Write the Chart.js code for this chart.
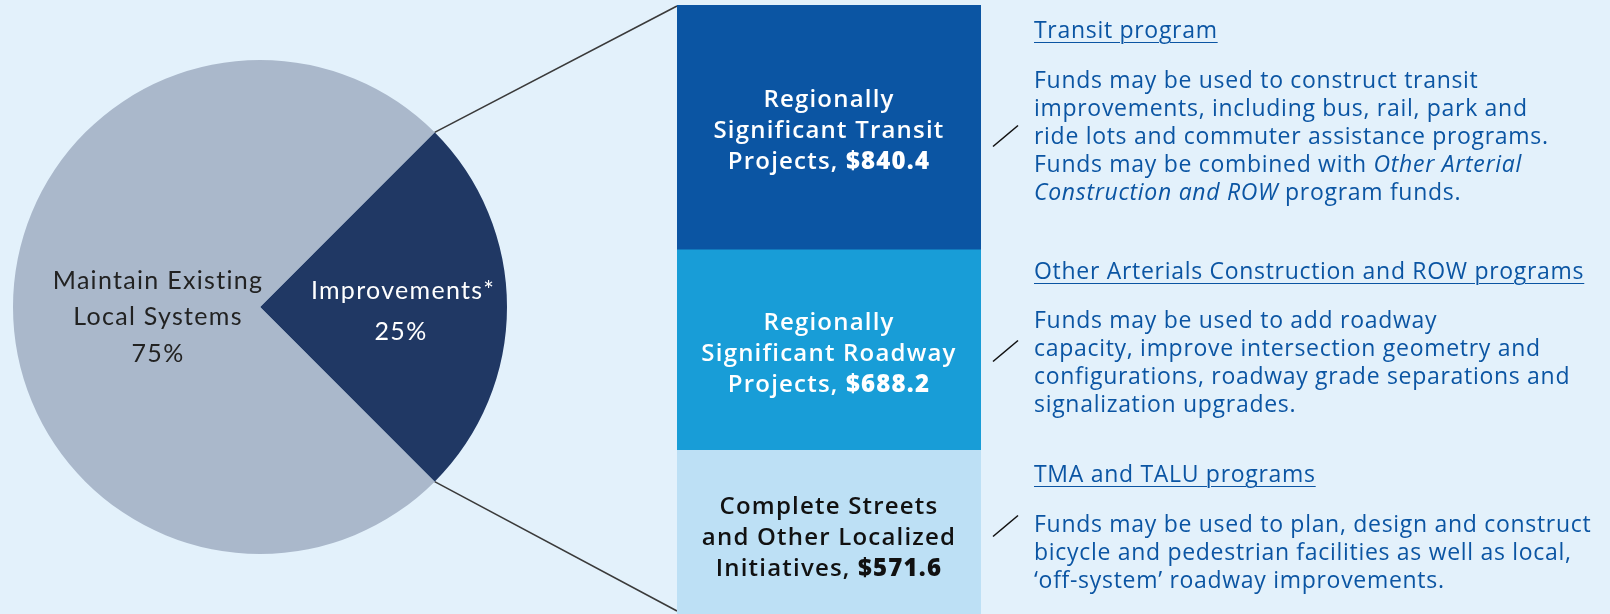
<!DOCTYPE html>
<html>
<head>
<meta charset="utf-8">
<script src="https://cdn.jsdelivr.net/npm/chart.js@4.4.1/dist/chart.umd.min.js"></script>
<style>
  html, body { margin:0; padding:0; width:1610px; height:614px; overflow:hidden; background:#e3f1fb; }
  #pieBox { position:absolute; left:13px; top:60px; width:494px; height:494px; }
  #barBox { position:absolute; left:677px; top:0px; width:304px; height:617px; }
  #overlay { position:absolute; left:0; top:0; pointer-events:none; }
  .txt { position:absolute; left:1034px; font-family:"Open Sans", sans-serif; font-size:23px; letter-spacing:0.7px; font-weight:500; color:#0b55a3; line-height:28px; white-space:nowrap; }
  .hd { text-decoration:underline; text-underline-offset:4px; text-decoration-thickness:1px; font-weight:500; }
  .it { font-style:italic; font-weight:400; }
</style>
</head>
<body>
<canvas id="overlay" width="1610" height="614"></canvas>
<div id="pieBox"><canvas id="pie"></canvas></div>
<div id="barBox"><canvas id="bar"></canvas></div>

<div class="txt hd" style="top:15px">Transit program</div>
<div class="txt" style="top:65px">Funds may be used to construct transit<br>improvements, including bus, rail, park and<br>ride lots and commuter assistance programs.<br>Funds may be combined with <span class="it">Other Arterial</span><br><span class="it">Construction and ROW</span> program funds.</div>

<div class="txt hd" style="top:256px">Other Arterials Construction and ROW programs</div>
<div class="txt" style="top:305px">Funds may be used to add roadway<br>capacity, improve intersection geometry and<br>configurations, roadway grade separations and<br>signalization upgrades.</div>

<div class="txt hd" style="top:459px">TMA and TALU programs</div>
<div class="txt" style="top:509px">Funds may be used to plan, design and construct<br>bicycle and pedestrian facilities as well as local,<br>‘off-system’ roadway improvements.</div>

<script>
// ---- Data ----
const pieLabels = ["Improvements*", "Maintain Existing Local Systems"];
const pieValues = [25, 75];
const pieLabelLines = [["Improvements*"], ["Maintain Existing", "Local Systems"]];

const barCategories = ["Complete Streets and Other Localized Initiatives", "Regionally Significant Roadway Projects", "Regionally Significant Transit Projects"];
const barValues = [571.6, 688.2, 840.4];
const barLabelLines = [["Complete Streets", "and Other Localized", "Initiatives, "], ["Regionally", "Significant Roadway", "Projects, "], ["Regionally", "Significant Transit", "Projects, "]];

// ---- Styles ----
const pieColors = ["#203864", "#aab8cb"];
const pieTextColors = ["#ffffff", "#222222"];
const barColors = ["#bde0f5", "#189dd7", "#0b55a3"];
const barTextColors = ["#111111", "#ffffff", "#ffffff"];

let pieChart = null, barChart = null;

function drawOverlay() {
  if (!pieChart || !barChart) return;
  const ov = document.getElementById('overlay');
  const ctx = ov.getContext('2d');
  ctx.clearRect(0, 0, ov.width, ov.height);
  const pieRect = document.getElementById('pieBox');
  const barRect = document.getElementById('barBox');
  const arc = pieChart.getDatasetMeta(0).data[0];
  const px = pieRect.offsetLeft, py = pieRect.offsetTop;
  const cx = px + arc.x, cy = py + arc.y, r = arc.outerRadius;
  const p1 = [cx + r * Math.cos(arc.startAngle), cy + r * Math.sin(arc.startAngle)];
  const p2 = [cx + r * Math.cos(arc.endAngle), cy + r * Math.sin(arc.endAngle)];
  const bx = barRect.offsetLeft + barChart.chartArea.left;
  const btop = barRect.offsetTop + barChart.chartArea.top;
  ctx.strokeStyle = "#3a3a3a";
  ctx.lineWidth = 1.6;
  ctx.beginPath();
  ctx.moveTo(p1[0], p1[1]); ctx.lineTo(bx, btop + 1);
  ctx.moveTo(p2[0], p2[1]); ctx.lineTo(bx, 2 * cy - btop + 2);
  ctx.stroke();
  // small slash marks next to descriptions
  ctx.strokeStyle = "#111";
  ctx.lineWidth = 1.6;
  [136, 351, 526].forEach(y => {
    ctx.beginPath();
    ctx.moveTo(993, y + 10.5); ctx.lineTo(1018, y - 10.5);
    ctx.stroke();
  });
}

const pieLabelPlugin = {
  id: 'pieLabels',
  afterDatasetsDraw(chart) {
    const ctx = chart.ctx;
    const arcs = chart.getDatasetMeta(0).data;
    ctx.save();
    ctx.textAlign = 'center';
    ctx.textBaseline = 'middle';
    ctx.font = '400 25px "Lato", sans-serif';
    ctx.letterSpacing = '1.3px';
    const a0 = arcs[0];
    ctx.fillStyle = pieTextColors[0];
    ctx.fillText(pieLabelLines[0][0], a0.x + 143, a0.y - 16);
    ctx.fillText(pieValues[0] + '%', a0.x + 141, a0.y + 25);
    ctx.fillStyle = pieTextColors[1];
    ctx.fillText(pieLabelLines[1][0], a0.x - 102, a0.y - 26);
    ctx.fillText(pieLabelLines[1][1], a0.x - 102, a0.y + 10);
    ctx.fillText(pieValues[1] + '%', a0.x - 102, a0.y + 47);
    ctx.restore();
    setTimeout(drawOverlay, 0);
  }
};

pieChart = new Chart(document.getElementById('pie'), {
  type: 'pie',
  data: {
    labels: pieLabels,
    datasets: [{ data: pieValues, backgroundColor: pieColors, borderWidth: 0, hoverOffset: 0 }]
  },
  options: {
    responsive: true, maintainAspectRatio: false, animation: false, events: [],
    rotation: 45,
    layout: { padding: 0 },
    plugins: { legend: { display: false }, tooltip: { enabled: false } }
  },
  plugins: [pieLabelPlugin]
});

const barLabelPlugin = {
  id: 'barLabels',
  afterDatasetsDraw(chart) {
    const ctx = chart.ctx;
    ctx.save();
    ctx.textBaseline = 'middle';
    ctx.letterSpacing = '1.2px';
    const lh = 31;
    const fReg = '600 24px "Open Sans", sans-serif';
    const fBold = '800 24px "Open Sans", sans-serif';
    chart.data.datasets.forEach((ds, i) => {
      const el = chart.getDatasetMeta(i).data[0];
      const cx = el.x;
      const cy = (el.y + el.base) / 2 + 4;
      const lines = barLabelLines[i];
      ctx.fillStyle = barTextColors[i];
      lines.forEach((t, k) => {
        const y = cy + (k - 1) * lh;
        if (k === lines.length - 1) {
          const val = '$' + ds.data[0].toFixed(1);
          ctx.font = fReg;
          const w1 = ctx.measureText(t).width;
          ctx.font = fBold;
          const w2 = ctx.measureText(val).width;
          const x = cx - (w1 + w2) / 2;
          ctx.textAlign = 'left';
          ctx.font = fReg;
          ctx.fillText(t, x, y);
          ctx.font = fBold;
          ctx.fillText(val, x + w1, y);
        } else {
          ctx.textAlign = 'center';
          ctx.font = fReg;
          ctx.fillText(t, cx, y);
        }
      });
    });
    ctx.restore();
    setTimeout(drawOverlay, 0);
  }
};

const barTotal = barValues.reduce((a, b) => a + b, 0);

barChart = new Chart(document.getElementById('bar'), {
  type: 'bar',
  data: {
    labels: ["Improvements"],
    datasets: barCategories.map((c, i) => ({
      label: c, data: [barValues[i]], backgroundColor: barColors[i],
      borderWidth: 0, barPercentage: 1, categoryPercentage: 1
    }))
  },
  options: {
    responsive: true, maintainAspectRatio: false, animation: false, events: [],
    layout: { padding: { top: 5, left: 0, right: 0, bottom: 0 } },
    scales: {
      x: { stacked: true, display: false },
      y: { stacked: true, display: false, min: 0, max: barTotal }
    },
    plugins: { legend: { display: false }, tooltip: { enabled: false } }
  },
  plugins: [barLabelPlugin]
});

drawOverlay();
</script>
</body>
</html>
